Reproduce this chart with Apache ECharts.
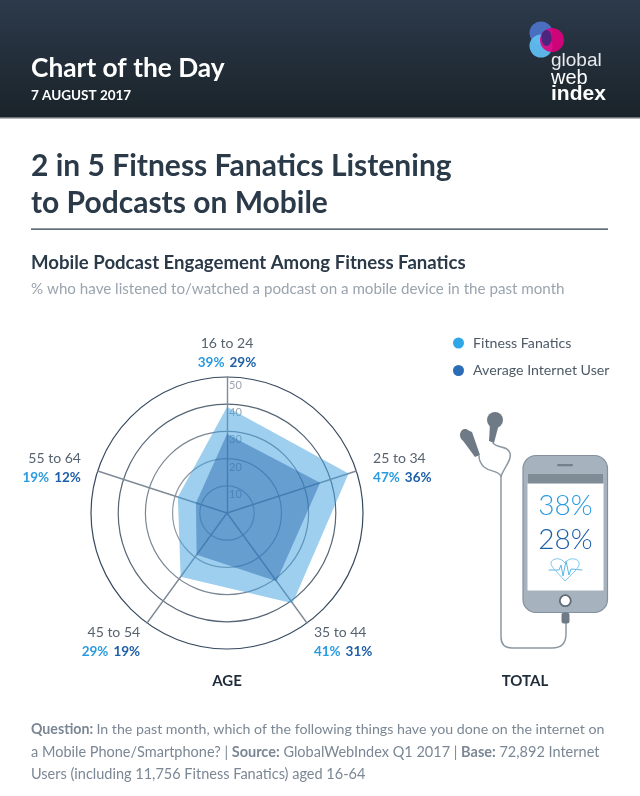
<!DOCTYPE html>
<html><head><meta charset="utf-8">
<style>html,body{margin:0;padding:0;background:#fff}#c{width:640px;height:796px}</style>
<script src="https://cdn.jsdelivr.net/npm/echarts@6/dist/echarts.min.js"></script>
</head><body><div id="c"></div>
<script>
const ageGroups = ['16 to 24','25 to 34','35 to 44','45 to 54','55 to 64'];
const fitnessFanatics = [39,47,41,29,19];
const averageUser = [29,36,31,19,12];
const totals = [38,28];
const seriesNames = ['Fitness Fanatics','Average Internet User'];
const axisMax = 50;

const FONT = 'Lato, "Noto Sans", sans-serif';
const C1 = '#2a9be0', C2 = '#1d5fa8';
// ECharts lays radar indicators counter-clockwise; the reference runs clockwise.
const ccw = a => [a[0], ...a.slice(1).reverse()];
const idx = ccw(ageGroups.map((_, i) => i));

const T = (x, y, text, size, color, weight, extra) => ({
  type: 'text', x, y,
  style: Object.assign({text, font: `${weight||400} ${size}px ${FONT}`, fill: color,
    verticalAlign: 'middle', align: 'left'}, extra||{})
});
let pathCount = 0;
const P = (d, stroke, w, fill) => {
  const name = 'deco' + (pathCount++);
  echarts.graphic.registerShape(name, echarts.graphic.extendPath(d));
  return {type:name, style:{stroke:stroke||null, lineWidth:w||0, fill:fill||null, lineCap:'round', lineJoin:'round'}};
};
const CBLE = '#8c98a3', BUD = '#6e7a85';

const graphics = [
  {type:'rect', shape:{x:0,y:0,width:640,height:117},
   style:{fill:new echarts.graphic.LinearGradient(0,0,0,1,[{offset:0,color:'#2c3a4b'},{offset:1,color:'#1a2329'}])}},
  {type:'rect', shape:{x:0,y:117,width:640,height:1.5}, style:{fill:'#6b7278'}},
  T(31,69,'Chart of the Day',26.3,'#fff',700),
  T(31,96,'7 AUGUST 2017',13.5,'#fff',700),
  // logo
  {type:'circle', shape:{cx:541,cy:33,r:11.5}, style:{fill:'#4a6fc0'}},
  {type:'circle', shape:{cx:541,cy:46,r:11.5}, style:{fill:'#5fbdf0',opacity:.95}},
  {type:'circle', shape:{cx:552,cy:40,r:12}, style:{fill:'#e0007f',opacity:.9}},
  {type:'ellipse', shape:{cx:546.5,cy:38,rx:5,ry:8}, style:{fill:'#2a2a7a',opacity:.8}},
  T(551,61,'global',19,'#e8ebee',300,{font:'300 19px "Liberation Sans", sans-serif'}),
  T(551,78,'web',20,'#fff',400,{font:'400 20px "Liberation Sans", sans-serif'}),
  T(551,94,'index',21,'#fff',700,{font:'700 21px "Liberation Sans", sans-serif'}),
  // titles
  T(31,166,'2 in 5 Fitness Fanatics Listening',30,'#2b3a49',700),
  T(31,203,'to Podcasts on Mobile',30,'#2b3a49',700),
  {type:'rect', shape:{x:31,y:228.5,width:577,height:1.2}, style:{fill:'#2b3a49'}},
  T(31,263,'Mobile Podcast Engagement Among Fitness Fanatics',18.6,'#2b3a49',700),
  T(31,289,'% who have listened to/watched a podcast on a mobile device in the past month',15.15,'#9aa4ae',400),
  T(227,681,'AGE',15,'#1f2c3a',700,{align:'center'}),
  T(525,681,'TOTAL',15,'#1f2c3a',700,{align:'center'}),
  // footer
  {type:'text', x:31, y:729, style:{
    text:'{b|Question:} {n|In the past month, which of the following things have you done on the internet on}',
    verticalAlign:'middle',
    rich:{b:{font:`700 14.2px ${FONT}`,fill:'#7b8794'},n:{font:`400 14.2px ${FONT}`,fill:'#7b8794'}}}},
  {type:'text', x:31, y:752, style:{
    text:'{n|a Mobile Phone/Smartphone? | }{b|Source:}{n| GlobalWebIndex Q1 2017 | }{b|Base:}{n| 72,892 Internet}',
    verticalAlign:'middle',
    rich:{b:{font:`700 14.5px ${FONT}`,fill:'#7b8794'},n:{font:`400 14.5px ${FONT}`,fill:'#7b8794'}}}},
  T(31,774,'Users (including 11,756 Fitness Fanatics) aged 16-64',14.5,'#7b8794',400),
  // cable
  P('M566 623 L566 634 Q566 648 552 648 L512 648 Q501 648 501 637 L501 476', CBLE, 1.5),
  P('M501 476 C497 470 490 472 484 467 C480 463 479 460 479 456', CBLE, 1.5),
  P('M501 476 C505 466 512 460 510 453 C507 445 498 449 493 443', CBLE, 1.5),
  // ear buds
  {type:'circle', shape:{cx:495,cy:420,r:8}, style:{fill:BUD}},
  P('M490 424 L489 441 L494 443 L499 424 Z', null, 0, BUD),
  {type:'ellipse', shape:{cx:465,cy:435,rx:5,ry:6}, style:{fill:BUD}},
  P('M461 438 L475 457 L480 455 L472 432 L465 429 Z', null, 0, BUD),
  // phone
  {type:'rect', shape:{x:523,y:455.5,width:84.5,height:157,r:13}, style:{fill:'#a6b3be',stroke:'#84919c',lineWidth:1.2}},
  {type:'rect', shape:{x:527.5,y:473.5,width:76,height:117}, style:{fill:'#fff'}},
  {type:'rect', shape:{x:527.5,y:473.5,width:76,height:10}, style:{fill:'#7f8b95'}},
  {type:'rect', shape:{x:557,y:464,width:16,height:2.2,r:1}, style:{fill:'#74808b'}},
  {type:'circle', shape:{cx:565.3,cy:600.7,r:5.5}, style:{fill:'#fff',stroke:'#5f6b76',lineWidth:1.8}},
  {type:'rect', shape:{x:561.5,y:612.5,width:8,height:11,r:2.5}, style:{fill:'#6e7a85'}},
  T(565.5,506,totals[0]+'%',28,C1,300,{align:'center'}),
  T(565.5,540,totals[1]+'%',28,C2,300,{align:'center'}),
  P('M549 570 L559 570 L561 565 L563 576 L566 561 L569 575 L571 569 L582 570', '#5cb8ea', 1),
  P('M555 570 C549 564 551 561 553 560 C558 557 563 560 565 563 C567 560 572 557 577 560 C579 561 581 564 576 570 L565 581 L555 570', '#7cc8f0', 1),
];

const richLabels = {
  n:{fontFamily:FONT, fontSize:14, color:'#56636f', lineHeight:19},
  a:{fontFamily:FONT, fontSize:13.5, fontWeight:700, color:C1, lineHeight:19},
  b:{fontFamily:FONT, fontSize:13.5, fontWeight:700, color:C2, lineHeight:19},
  sp:{width:5, fontSize:1, lineHeight:19},
  // invisible spacers that nudge individual labels away from the ring
  gl:{width:12, fontSize:1, lineHeight:19},
  gm:{width:4, fontSize:1, lineHeight:19},
  drop:{fontSize:1, lineHeight:30},
  lift:{fontSize:1, lineHeight:3}
};
// per-label [prefix, suffix, lead line, tail line], by age group
const nudges = [
  ['', '', '', ''],
  ['{gl| }', '', '', '\n{lift| }'],
  ['{gm| }', '', '{drop| }\n', ''],
  ['', '{gm| }', '{drop| }\n', ''],
  ['', '{gl| }', '', '\n{lift| }']
];

const option = {
  animation:false,
  backgroundColor:'#fff',
  graphic:{elements:graphics},
  legend:{
    orient:'vertical', left:448, top:331, itemGap:13.5, itemWidth:11, itemHeight:11, icon:'circle',
    data:seriesNames, selectedMode:false,
    textStyle:{fontFamily:FONT, fontSize:14.2, color:'#4d5a67', padding:[0,0,0,4]}
  },
  radar:{
    center:[227,513], radius:136, startAngle:90, splitNumber:5, shape:'circle',
    nameGap:5,
    indicator: idx.map((i,k) => ({
      name: ageGroups[i], max:axisMax, min:0,
      axisLabel:{show:k===0, color:'#9aa4ae', fontSize:11, fontFamily:FONT, inside:true, margin:-2,
                 align:'left', verticalAlign:'top', padding:[3,0,0,0], showMaxLabel:true, showMinLabel:false}
    })),
    axisName:{
      formatter:(name) => {
        const i = ageGroups.indexOf(name);
        const [pre, suf, lead, tail] = nudges[i];
        return `${lead}${pre}{n|${name}}${suf}\n${pre}{a|${fitnessFanatics[i]}%}{sp| }{b|${averageUser[i]}%}${suf}${tail}`;
      },
      rich:richLabels
    },
    splitLine:{lineStyle:{color:['#36495e','#9aa3ad','#8f99a3','#7a8794','#566676'],width:1.2}},
    splitArea:{show:false},
    axisLine:{lineStyle:{color:'#7f8b97',width:1.4}},
    axisTick:{show:false}
  },
  series:[{
    type:'radar', symbol:'none', silent:true,
    data:[
      {name:seriesNames[0], value:ccw(fitnessFanatics),
       itemStyle:{color:'#2fa6e6'}, lineStyle:{width:0}, areaStyle:{color:'#3d9fdf',opacity:.5}},
      {name:seriesNames[1], value:ccw(averageUser),
       itemStyle:{color:'#2a6cb5'}, lineStyle:{width:0}, areaStyle:{color:'#1f5fa8',opacity:.44}}
    ]
  }]
};
const chart = echarts.init(document.getElementById('c'), null, {renderer:'canvas'});
chart.setOption(option);
</script></body></html>
